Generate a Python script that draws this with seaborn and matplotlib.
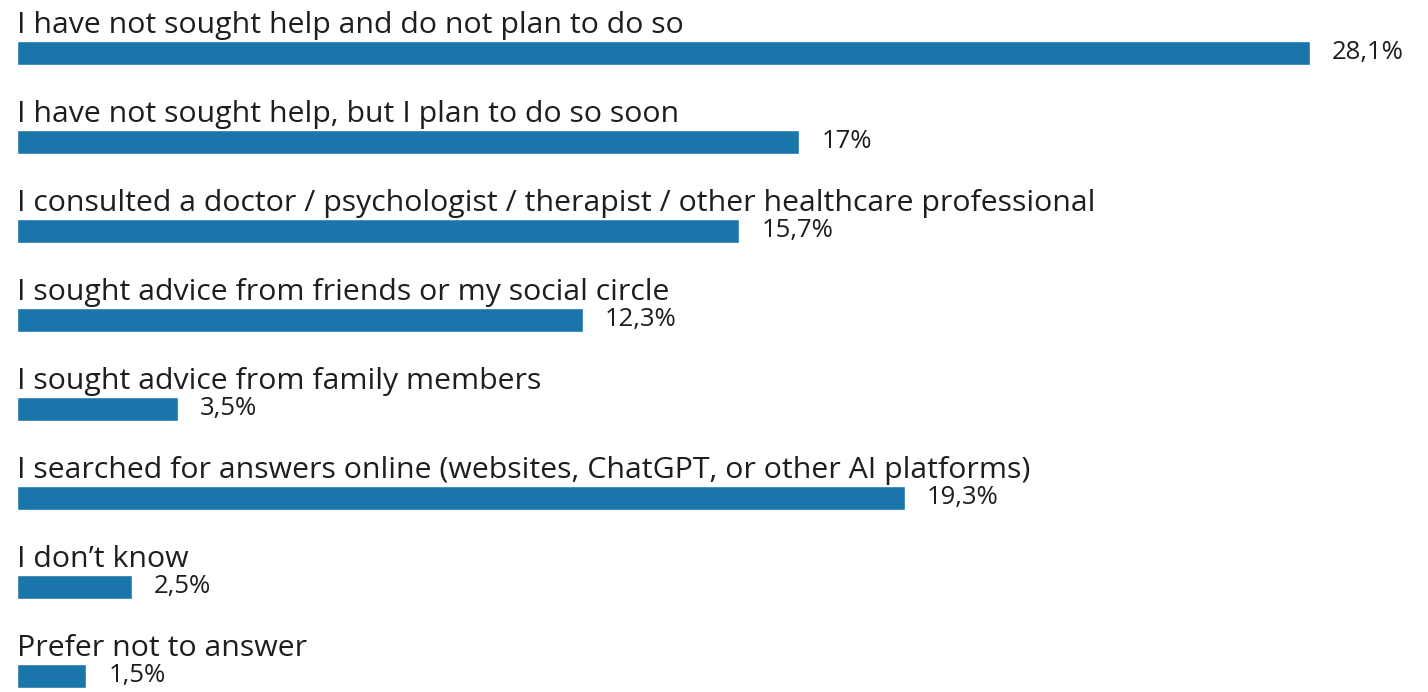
import matplotlib
matplotlib.use("Agg")
import matplotlib.pyplot as plt
import seaborn as sns
import pandas as pd

# Survey responses and their shares (%)
categories = [
    "I have not sought help and do not plan to do so",
    "I have not sought help, but I plan to do so soon",
    "I consulted a doctor / psychologist / therapist / other healthcare professional",
    "I sought advice from friends or my social circle",
    "I sought advice from family members",
    "I searched for answers online (websites, ChatGPT, or other AI platforms)",
    "I don\u2019t know",
    "Prefer not to answer",
]
values = [28.1, 17.0, 15.7, 12.3, 3.5, 19.3, 2.5, 1.5]
value_labels = ["28,1%", "17%", "15,7%", "12,3%", "3,5%", "19,3%", "2,5%", "1,5%"]

df = pd.DataFrame({"answer": categories, "share": values})

sns.set_theme(style="white")
plt.rcParams["font.family"] = ["Open Sans", "DejaVu Sans"]

W, H = 1428, 692
fig = plt.figure(figsize=(W / 100, H / 100), dpi=100)
ax = fig.add_axes([17 / W, 0, 1 - 17 / W, 1])

bar_color = "#1a76aa"
sns.barplot(data=df, y="answer", x="share", orient="h", color=bar_color,
            width=0.26, saturation=1, ax=ax)

# 46 px per percentage point, bars centred every 89 px starting at 53 px
ax.set_xlim(0, (W - 17) / 46)
ax.set_ylim((H - 53) / 89, -53 / 89)

ax.bar_label(ax.containers[0], labels=value_labels, padding=16,
             fontsize=18.5, color="#1e1e1e")

for i, text in enumerate(categories):
    ax.text(0, i - 0.225, text, ha="left", va="baseline",
            fontsize=21.8, color="#1e1e1e")

ax.axis("off")
fig.savefig("out.png", dpi=100, facecolor="white")
